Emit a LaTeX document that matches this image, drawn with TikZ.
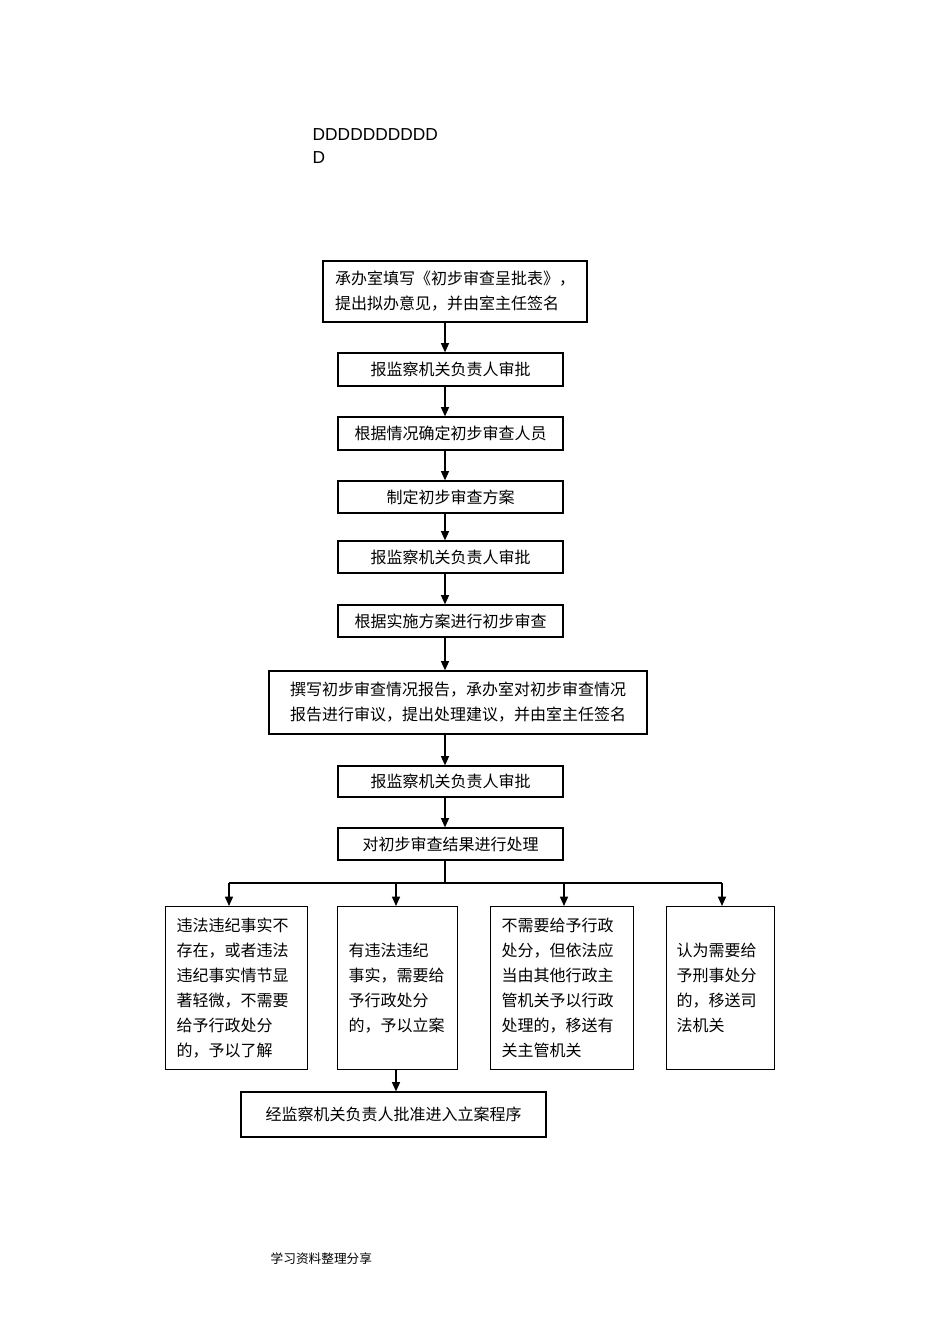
\documentclass[tikz,border=0pt]{standalone}
\usepackage{fontspec}
\newfontfamily\cjk{Noto Sans CJK SC}
\setmainfont{Liberation Sans}
\usetikzlibrary{arrows.meta}
\begin{document}
\begin{tikzpicture}[x=0.75pt,y=-0.75pt,
  box/.style={draw,line width=0.9pt,inner sep=0pt,font=\cjk\fontsize{12}{18.75}\selectfont},
  arr/.style={-{Triangle[length=7pt,width=6pt]},line width=1.1pt}]
\useasboundingbox (0,0) rectangle (950,1344);
\node[anchor=north west,align=left,font=\fontsize{13}{17}\selectfont] (hd) at (308,124) {DDDDDDDDDD\\D};
\node[box,minimum width=264*0.75pt,minimum height=61*0.75pt,align=left] (b1) at (455,291.5) {承办室填写《初步审查呈批表》，\\提出拟办意见，并由室主任签名};
\node[box,minimum width=225*0.75pt,minimum height=33*0.75pt] (b2) at (450.5,369.5) {报监察机关负责人审批};
\node[box,minimum width=225*0.75pt,minimum height=33*0.75pt] (b3) at (450.5,433.5) {根据情况确定初步审查人员};
\node[box,minimum width=225*0.75pt,minimum height=32*0.75pt] (b4) at (450.5,497) {制定初步审查方案};
\node[box,minimum width=225*0.75pt,minimum height=32*0.75pt] (b5) at (450.5,557) {报监察机关负责人审批};
\node[box,minimum width=225*0.75pt,minimum height=32*0.75pt] (b6) at (450.5,621) {根据实施方案进行初步审查};
\node[box,minimum width=378*0.75pt,minimum height=63*0.75pt,align=left] (b7) at (458,702.5) {撰写初步审查情况报告，承办室对初步审查情况\\报告进行审议，提出处理建议，并由室主任签名};
\node[box,minimum width=225*0.75pt,minimum height=31*0.75pt] (b8) at (450.5,781.5) {报监察机关负责人审批};
\node[box,minimum width=225*0.75pt,minimum height=32*0.75pt] (b9) at (450.5,844) {对初步审查结果进行处理};
\node[box,minimum width=142*0.75pt,minimum height=163*0.75pt,align=left,anchor=north west,text width=120*0.75pt,inner xsep=11*0.75pt,inner ysep=6pt] (ba) at (165,906) {违法违纪事实不\\存在，或者违法\\违纪事实情节显\\著轻微，不需要\\给予行政处分\\的，予以了解};
\node[box,minimum width=120*0.75pt,minimum height=163*0.75pt,align=left,anchor=north west,text width=98*0.75pt,inner xsep=11*0.75pt,inner ysep=24pt] (bb) at (337,906) {有违法违纪\\事实，需要给\\予行政处分\\的，予以立案};
\node[box,minimum width=143*0.75pt,minimum height=163*0.75pt,align=left,anchor=north west,text width=121*0.75pt,inner xsep=11*0.75pt,inner ysep=6pt] (bc) at (490,906) {不需要给予行政\\处分，但依法应\\当由其他行政主\\管机关予以行政\\处理的，移送有\\关主管机关};
\node[box,minimum width=108*0.75pt,minimum height=163*0.75pt,align=left,anchor=north west,text width=88*0.75pt,inner xsep=10*0.75pt,inner ysep=24pt] (bd) at (666,906) {认为需要给\\予刑事处分\\的，移送司\\法机关};
\node[box,minimum width=305*0.75pt,minimum height=45*0.75pt] (bf) at (393.5,1114.5) {经监察机关负责人批准进入立案程序};
\node[anchor=west,font=\cjk\fontsize{9.5}{12}\selectfont] (ft) at (266,1259) {学习资料整理分享};
\foreach \a/\b in {b1/b2,b2/b3,b3/b4,b4/b5,b5/b6,b6/b7,b7/b8,b8/b9}
  \draw[arr] (\a.south -| 445,0) -- (\b.north -| 445,0);
\coordinate (j) at (445,883);
\draw[line width=1.1pt] (b9.south -| 445,0) -- (j);
\draw[line width=1.1pt] (229,883) -- (722,883);
\draw[arr] (229,883) -- (ba.north -| 229,0);
\draw[arr] (396,883) -- (bb.north -| 396,0);
\draw[arr] (564,883) -- (bc.north -| 564,0);
\draw[arr] (722,883) -- (bd.north -| 722,0);
\draw[arr] (bb.south -| 396,0) -- (bf.north -| 396,0);
\end{tikzpicture}
\end{document}
